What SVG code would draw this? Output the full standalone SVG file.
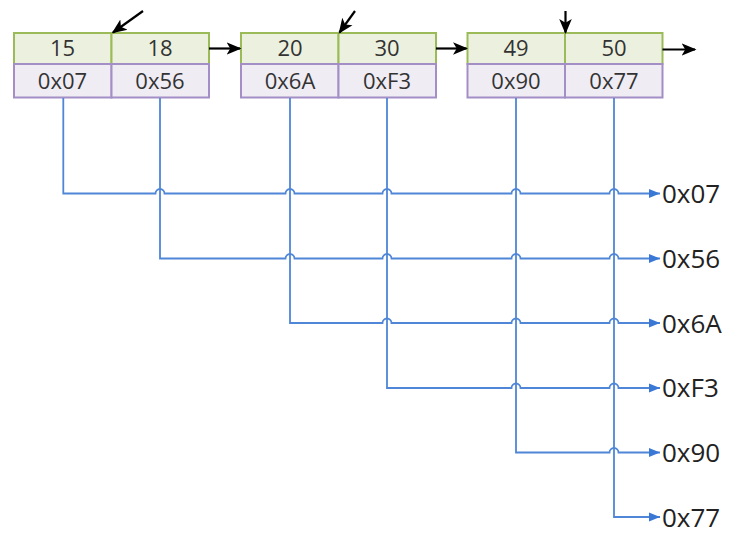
<svg xmlns="http://www.w3.org/2000/svg" width="730" height="534" viewBox="0 0 730 534">
  <style>
    .key { fill: #EBF1DE; stroke: #9BBB59; stroke-width: 2; }
    .ptr { fill: #EFECF4; stroke: #A38FC6; stroke-width: 2; }
    .cell { font-family: "Open Sans", "Noto Sans", sans-serif; font-size: 22px; fill: #333333; text-anchor: middle; }
    .lbl { font-family: "Open Sans", "Noto Sans", sans-serif; font-size: 26px; fill: #222222; }
    .link { fill: none; stroke: #000000; stroke-width: 2.2; marker-end: url(#blackHead); }
    .wire { fill: none; stroke: #4F86D8; stroke-width: 1.8; marker-end: url(#blueHead); }
  </style>
  <defs>
    <marker id="blackHead" viewBox="0 0 10 10" refX="9" refY="5" markerWidth="15" markerHeight="15" markerUnits="userSpaceOnUse" orient="auto">
      <path d="M0,0.8 L10,5 L0,9.2 L2.5,5 z" fill="#000000"/>
    </marker>
    <marker id="blueHead" viewBox="0 0 10 10" refX="10" refY="5" markerWidth="11" markerHeight="11" markerUnits="userSpaceOnUse" orient="auto">
      <path d="M0,1 L10,5 L0,9 z" fill="#3A78D6"/>
    </marker>
  </defs>

  <!-- leaf node 1 -->
  <g id="node1">
    <rect class="key" x="14" y="33" width="97.5" height="31"/>
    <rect class="key" x="111.5" y="33" width="97.5" height="31"/>
    <rect class="ptr" x="14" y="64" width="97.5" height="33.5"/>
    <rect class="ptr" x="111.5" y="64" width="97.5" height="33.5"/>
    <text class="cell" x="62.5" y="56">15</text>
    <text class="cell" x="160" y="56">18</text>
    <text class="cell" x="62.5" y="88.5">0x07</text>
    <text class="cell" x="160" y="88.5">0x56</text>
  </g>

  <!-- leaf node 2 -->
  <g id="node2">
    <rect class="key" x="241" y="33" width="97.5" height="31"/>
    <rect class="key" x="338.5" y="33" width="97.5" height="31"/>
    <rect class="ptr" x="241" y="64" width="97.5" height="33.5"/>
    <rect class="ptr" x="338.5" y="64" width="97.5" height="33.5"/>
    <text class="cell" x="290" y="56">20</text>
    <text class="cell" x="387" y="56">30</text>
    <text class="cell" x="290" y="88.5">0x6A</text>
    <text class="cell" x="387" y="88.5">0xF3</text>
  </g>

  <!-- leaf node 3 -->
  <g id="node3">
    <rect class="key" x="467.5" y="33" width="97.5" height="31"/>
    <rect class="key" x="565" y="33" width="97.5" height="31"/>
    <rect class="ptr" x="467.5" y="64" width="97.5" height="33.5"/>
    <rect class="ptr" x="565" y="64" width="97.5" height="33.5"/>
    <text class="cell" x="516" y="56">49</text>
    <text class="cell" x="614" y="56">50</text>
    <text class="cell" x="516" y="88.5">0x90</text>
    <text class="cell" x="614" y="88.5">0x77</text>
  </g>

  <!-- record labels -->
  <g id="records">
    <text class="lbl" x="662" y="203">0x07</text>
    <text class="lbl" x="662" y="267.5">0x56</text>
    <text class="lbl" x="662" y="332.5">0x6A</text>
    <text class="lbl" x="662" y="397">0xF3</text>
    <text class="lbl" x="662" y="461.5">0x90</text>
    <text class="lbl" x="662" y="526.5">0x77</text>
  </g>

  <g id="connectors">
    <!-- parent pointers and sibling links -->
    <path class="link" d="M143,11 L113,32.5"/>
    <path class="link" d="M355,11 L339.5,32.5"/>
    <path class="link" d="M565.5,11 L565.5,32.5"/>
    <path class="link" d="M209,48.5 L240,48.5"/>
    <path class="link" d="M436,48.5 L466.5,48.5"/>
    <path class="link" d="M662.5,49.5 L695,49.5"/>

    <!-- pointers down to records; horizontals hop over verticals -->
    <path class="wire" d="M63.3,98 V193.5 H155.5 a4.5,4.5 0 0 1 9,0 H285.5 a4.5,4.5 0 0 1 9,0 H382.5 a4.5,4.5 0 0 1 9,0 H511.5 a4.5,4.5 0 0 1 9,0 H609.5 a4.5,4.5 0 0 1 9,0 H660"/>
    <path class="wire" d="M160,98 V258.5 H285.5 a4.5,4.5 0 0 1 9,0 H382.5 a4.5,4.5 0 0 1 9,0 H511.5 a4.5,4.5 0 0 1 9,0 H609.5 a4.5,4.5 0 0 1 9,0 H660"/>
    <path class="wire" d="M290,98 V323 H382.5 a4.5,4.5 0 0 1 9,0 H511.5 a4.5,4.5 0 0 1 9,0 H609.5 a4.5,4.5 0 0 1 9,0 H660"/>
    <path class="wire" d="M387,98 V388 H511.5 a4.5,4.5 0 0 1 9,0 H609.5 a4.5,4.5 0 0 1 9,0 H660"/>
    <path class="wire" d="M516,98 V452.5 H609.5 a4.5,4.5 0 0 1 9,0 H660"/>
    <path class="wire" d="M614,98 V517 H660"/>
  </g>
</svg>
